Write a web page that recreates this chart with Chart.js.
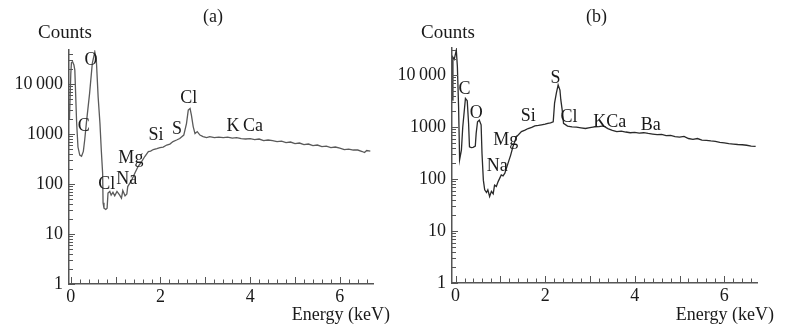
<!DOCTYPE html>
<html>
<head>
<meta charset="utf-8">
<script src="https://cdn.jsdelivr.net/npm/chart.js@4.4.1/dist/chart.umd.min.js"></script>
<style>
  body { margin: 0; background: #fff; }
  #wrap { position: relative; width: 806px; height: 333px; }
  canvas { position: absolute; top: 0; }
  #graph_a { left: 0; }
  #graph_b { left: 392px; }
</style>
</head>
<body>
<div id="wrap">
  <canvas id="graph_a" width="400" height="333"></canvas>
  <canvas id="graph_b" width="414" height="333"></canvas>
</div>
<script>
// data (energy in keV, counts)
const energyA = [-0.03, 0.0, 0.015, 0.04, 0.07, 0.09, 0.13, 0.16, 0.2, 0.24, 0.28, 0.31, 0.35, 0.42, 0.48, 0.535, 0.57, 0.61, 0.65, 0.68,
  0.71, 0.72, 0.74, 0.78, 0.81, 0.83, 0.87, 0.9, 0.94, 0.98, 1.03, 1.09, 1.13, 1.16, 1.21, 1.25, 1.27, 1.36, 1.43, 1.5,
  1.58, 1.65, 1.73, 1.78, 1.84, 1.92, 1.99, 2.06, 2.14, 2.21, 2.28, 2.36, 2.43, 2.52, 2.58, 2.62, 2.66, 2.69, 2.73, 2.77,
  2.82, 2.88, 2.95, 3.03, 3.1, 3.2, 3.3, 3.4, 3.5, 3.6, 3.7, 3.8, 3.9, 4.0, 4.1, 4.2, 4.3, 4.4, 4.5, 4.6,
  4.7, 4.8, 4.9, 5.0, 5.1, 5.2, 5.3, 5.4, 5.5, 5.6, 5.7, 5.8, 5.9, 6.0, 6.1, 6.2, 6.3, 6.4, 6.5, 6.55, 6.6, 6.68];
const countsA = [2000, 16000, 27000, 28000, 24000, 19000, 1700, 550, 380, 360, 450, 760, 1750, 6600, 26000, 44000, 30000, 5500, 1650, 480,
  165, 42, 33, 31, 33, 66, 71, 60, 68, 58, 71, 60, 52, 74, 58, 63, 89, 120, 166, 224,
  282, 355, 447, 457, 490, 513, 537, 550, 603, 630, 708, 759, 813, 955, 1620, 3020, 3240, 2400, 1410, 1020,
  1120, 955, 890, 850, 890, 850, 870, 850, 870, 830, 850, 810, 795, 810, 775, 795, 740, 760, 740, 708,
  724, 676, 692, 646, 661, 617, 631, 589, 603, 562, 575, 537, 550, 525, 490, 501, 479, 479, 447, 427, 468, 457];

const energyB = [-0.07, -0.06, -0.03, 0.016, 0.04, 0.067, 0.09, 0.13, 0.16, 0.22, 0.26, 0.29, 0.31, 0.35, 0.39, 0.44, 0.46, 0.49, 0.53, 0.57,
  0.59, 0.62, 0.65, 0.69, 0.72, 0.76, 0.8, 0.84, 0.87, 0.91, 0.95, 1.02, 1.06, 1.1, 1.17, 1.23, 1.28, 1.36, 1.47, 1.55,
  1.62, 1.7, 1.77, 1.85, 1.92, 2.0, 2.06, 2.12, 2.18, 2.21, 2.25, 2.29, 2.33, 2.35, 2.38, 2.41, 2.5, 2.6, 2.7, 2.8,
  2.9, 3.0, 3.1, 3.2, 3.3, 3.4, 3.5, 3.6, 3.7, 3.8, 3.9, 4.0, 4.1, 4.2, 4.3, 4.4, 4.5, 4.6, 4.7, 4.8,
  4.9, 5.0, 5.1, 5.2, 5.3, 5.4, 5.5, 5.6, 5.7, 5.8, 5.9, 6.0, 6.1, 6.2, 6.3, 6.4, 6.5, 6.6, 6.7];
const countsB = [3300, 22000, 20000, 30000, 14500, 2450, 235, 360, 1000, 3550, 3200, 1175, 417, 400, 407, 427, 760, 1260, 1350, 1100,
  309, 95, 62, 55, 62, 46, 58, 52, 76, 72, 89, 120, 115, 129, 200, 288, 417, 646, 813, 870,
  933, 980, 1050, 1070, 1100, 1130, 1175, 1200, 1260, 2880, 4470, 6460, 5130, 3310, 2140, 1175, 1040, 1000, 990, 960,
  935, 970, 1000, 1020, 1050, 930, 860, 815, 835, 800, 775, 790, 760, 775, 750, 730, 710, 720, 680, 690,
  650, 640, 660, 600, 580, 600, 560, 555, 540, 530, 505, 495, 480, 470, 460, 455, 445, 430, 425];

// element labels: text, anchor energy (keV), anchor counts
const peaksA = [
  ["O", 0.45, 30200], ["C", 0.29, 1450], ["Cl", 0.8, 100], ["Na", 1.25, 126], ["Mg", 1.34, 330],
  ["Si", 1.9, 955], ["S", 2.37, 1260], ["Cl", 2.63, 5250], ["K\u2009Ca", 3.88, 1450]
];
const peaksB = [
  ["C", 0.2, 5370], ["O", 0.46, 1820], ["Na", 0.93, 178], ["Mg", 1.12, 562], ["Si", 1.62, 1585],
  ["S", 2.23, 8710], ["Cl", 2.53, 1510], ["KCa", 3.44, 1230], ["Ba", 4.36, 1070]
];

// axis ticks
const xTickLabels = [0, 2, 4, 6];
const yTickLabels = [1, 10, 100, 1000, 10000];
const xTickValues = [];
for (let i = 0; i <= 33; i++) xTickValues.push(i / 5);
const yTickValues = [];
yTickLabels.forEach((d) => { for (let m = 1; m <= 9; m++) yTickValues.push(d * m); });

const serif = "'Liberation Serif', 'Times New Roman', serif";

// inward tick marks, axis titles and element labels
const spectrumDecor = {
  id: "spectrumDecor",
  afterDraw(chart, args, opts) {
    const { ctx, chartArea, scales } = chart;
    const x = scales.x, y = scales.y;
    ctx.save();
    ctx.strokeStyle = "#555";
    ctx.lineWidth = 1;
    ctx.beginPath();
    y.ticks.forEach((t) => {
      const py = Math.round(y.getPixelForValue(t.value)) + 0.5;
      const len = yTickLabels.includes(t.value) ? 6 : 4;
      ctx.moveTo(chartArea.left, py);
      ctx.lineTo(chartArea.left + len, py);
    });
    x.ticks.forEach((t) => {
      const px = Math.round(x.getPixelForValue(t.value)) + 0.5;
      const len = Number.isInteger(t.value) ? 7 : 4.5;
      ctx.moveTo(px, chartArea.bottom);
      ctx.lineTo(px, chartArea.bottom - len);
    });
    ctx.stroke();

    ctx.fillStyle = "#1a1a1a";
    ctx.textBaseline = "alphabetic";
    ctx.textAlign = "center";
    ctx.font = "18px " + serif;
    ctx.fillText(opts.title, (chartArea.left + chartArea.right) / 2 - 8, 22);
    ctx.font = "19px " + serif;
    ctx.fillText("Counts", chartArea.left - 4, 38);
    ctx.font = "18px " + serif;
    ctx.textAlign = "right";
    ctx.fillText("Energy (keV)", chartArea.right + 17, 320);

    ctx.textAlign = "center";
    ctx.textBaseline = "middle";
    opts.peaks.forEach(([text, e, c]) => {
      ctx.fillText(text, x.getPixelForValue(e), y.getPixelForValue(c));
    });
    ctx.restore();
  },
};

function spectrumChart(id, energy, counts, cfg) {
  return new Chart(document.getElementById(id), {
    type: "scatter",
    data: {
      datasets: [
        {
          data: energy.map((e, i) => ({ x: e, y: counts[i] })),
          showLine: true,
          borderColor: cfg.color,
          borderWidth: 1.3,
          pointRadius: 0,
          tension: 0,
        },
      ],
    },
    options: {
      responsive: false,
      animation: false,
      events: [],
      layout: { padding: { top: cfg.top, right: cfg.right, left: 0, bottom: 0 } },
      plugins: {
        legend: { display: false },
        tooltip: { enabled: false },
        spectrumDecor: { title: cfg.title, peaks: cfg.peaks },
      },
      scales: {
        x: {
          type: "linear",
          min: cfg.xMin,
          max: cfg.xMax,
          afterBuildTicks: (s) => { s.ticks = xTickValues.map((v) => ({ value: v })); },
          afterFit: (s) => { s.height = cfg.axisH; },
          grid: { display: false, drawTicks: false },
          border: { display: true, color: "#555", width: 1.5 },
          ticks: {
            autoSkip: false,
            maxRotation: 0,
            padding: 2,
            color: "#1a1a1a",
            font: { family: serif, size: 18 },
            callback: (v) => (xTickLabels.includes(v) ? String(v) : ""),
          },
        },
        y: {
          type: "logarithmic",
          min: 1,
          max: cfg.yMax,
          afterBuildTicks: (s) => {
            s.ticks = yTickValues.filter((v) => v <= cfg.yMax).map((v) => ({ value: v }));
          },
          afterFit: (s) => { s.width = cfg.axisW; },
          grid: { display: false, drawTicks: false },
          border: { display: true, color: "#555", width: 1.5 },
          ticks: {
            autoSkip: false,
            padding: 6,
            color: "#1a1a1a",
            font: { family: serif, size: 18 },
            callback: (v) => (v === 10000 ? "10\u2009000" : yTickLabels.includes(v) ? String(v) : ""),
          },
        },
      },
    },
    plugins: [spectrumDecor],
  });
}

spectrumChart("graph_a", energyA, countsA, {
  title: "(a)", peaks: peaksA, color: "#5a5a5a",
  xMin: -0.04, xMax: 6.74, yMax: 48000,
  top: 50, right: 27, axisW: 69, axisH: 49,
});

spectrumChart("graph_b", energyB, countsB, {
  title: "(b)", peaks: peaksB, color: "#2a2a2a",
  xMin: -0.08, xMax: 6.73, yMax: 33000,
  top: 48, right: 49, axisW: 60, axisH: 50,
});
</script>
</body>
</html>
